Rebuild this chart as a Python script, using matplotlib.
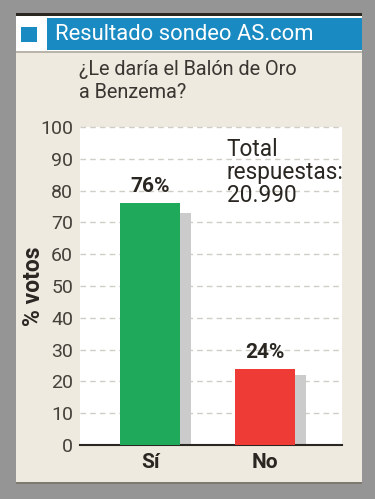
import matplotlib
matplotlib.use("Agg")
import matplotlib.pyplot as plt
from matplotlib.patches import Rectangle

# datos del sondeo
categorias = ["Sí", "No"]
porcentajes = [76, 24]
sombras = [73, 22]
colores = ["#1fa95b", "#ee3b36"]
ticks_y = [0, 10, 20, 30, 40, 50, 60, 70, 80, 90, 100]
titulo = "Resultado sondeo AS.com"
pregunta = "¿Le daría el Balón de Oro\na Benzema?"
total = "Total\nrespuestas:\n20.990"

W, H = 375, 499
plt.rcParams['font.family'] = ['Roboto', 'DejaVu Sans']
fig = plt.figure(figsize=(W / 100, H / 100), dpi=100, facecolor="#959595")

def caja(x0, y0, x1, y1, **kw):
    # rectangulo en pixeles (origen arriba a la izquierda)
    fig.patches.append(Rectangle((x0 / W, 1 - y1 / H), (x1 - x0) / W, (y1 - y0) / H,
                                 transform=fig.transFigure, figure=fig, zorder=-5, **kw))

# tarjeta
caja(16, 13, 362, 482, facecolor="#eeeae0", edgecolor="none")
caja(16, 482, 362, 484, facecolor="#7d7a72", edgecolor="none")
caja(16, 13, 362, 16, facecolor="#2a2622", edgecolor="none")
caja(16, 16, 362, 52, facecolor="#ffffff", edgecolor="none")
caja(16, 51, 362, 53, facecolor="#b8b4aa", edgecolor="none")
caja(47, 18, 362, 50, facecolor="#1a8bc2", edgecolor="none")
caja(21, 27, 37, 42, facecolor="#1a8bc2", edgecolor="none")

fig.text(55 / W, 1 - 34 / H, titulo, color="white", fontsize=15.8, va="center", ha="left")
fig.text(79 / W, 1 - 60 / H, pregunta, color="#3a3632", fontsize=14.3, va="top", ha="left",
         linespacing=1.25)

# grafico
ax = fig.add_axes([80 / W, 1 - 445 / H, 262 / W, 318 / H])
ax.set_facecolor("white")
x = list(range(len(categorias)))
ax.bar([i + 0.095 for i in x], sombras, width=0.52, color="#cbcbcb", zorder=2)
ax.bar(x, porcentajes, width=0.52, color=colores, zorder=3)
for i, v in zip(x, porcentajes):
    ax.text(i, v + 2.2, f"{v}%", ha="center", va="bottom", fontsize=15, fontweight="bold",
            color="#2a2622", zorder=4)

ax.set_xlim(-0.61, 1.67)
ax.set_ylim(0, 100)
ax.set_yticks(ticks_y)
ax.set_yticklabels([str(t) for t in ticks_y], fontsize=14, color="#45403a", fontweight="normal")
ax.set_xticks(x)
ax.set_xticklabels(categorias, fontsize=15, fontweight="bold", color="#2a2622")
ax.tick_params(axis="y", length=0, pad=5)
ax.tick_params(axis="x", length=0, pad=6)
for t in ticks_y[1:]:
    ax.axhline(t, color="#d0cdc6", linewidth=1, linestyle=(0, (4, 3)), zorder=1, clip_on=False)
for s in ["top", "right", "left"]:
    ax.spines[s].set_visible(False)
ax.spines["bottom"].set_color("#2a2622")
ax.spines["bottom"].set_linewidth(1.5)
ax.set_ylabel("% votos", fontsize=16.5, fontweight="bold", color="#2a2622", va="center")
ax.yaxis.set_label_coords((33 - 80) / 262, 0.5)

ax.text(0.56, 0.965, total, transform=ax.transAxes, ha="left", va="top", fontsize=16.3,
        color="#2a2622", linespacing=1.0)

fig.savefig("out.png", dpi=100, facecolor=fig.get_facecolor())
